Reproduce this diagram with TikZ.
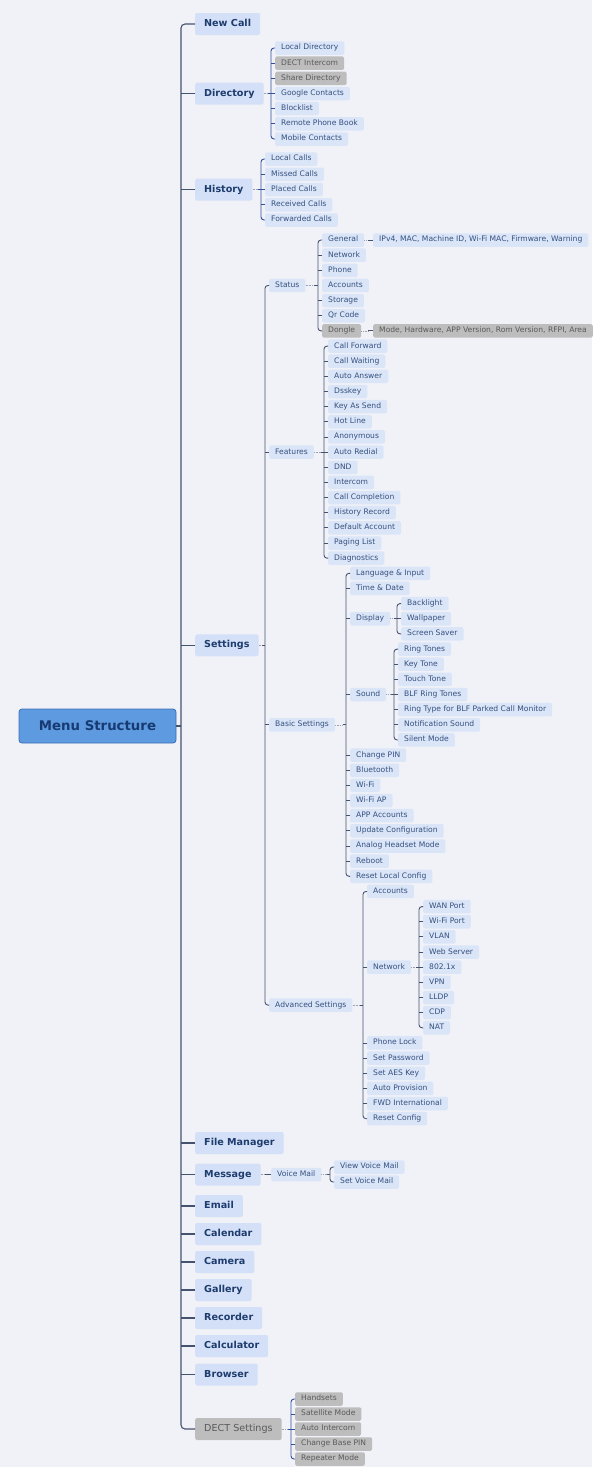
\documentclass[tikz,border=0pt]{standalone}
\usepackage{fontspec}
\setmainfont{DejaVu Sans}
\usepackage{tikz}
\usetikzlibrary{calc}
\usepackage{xcolor}
\definecolor{bgcol}{HTML}{F1F2F8}
\definecolor{rootfill}{HTML}{5E9AE0}
\definecolor{rootedge}{HTML}{3B6FB5}
\definecolor{roottext}{HTML}{173A72}
\definecolor{mainfill}{HTML}{D3E0F7}
\definecolor{maintext}{HTML}{1E3C6E}
\definecolor{subfill}{HTML}{DBE5F8}
\definecolor{subtext}{HTML}{34507E}
\definecolor{greyfill}{HTML}{BDBDBD}
\definecolor{greytext}{HTML}{5A5A5A}
\definecolor{linecol}{HTML}{45536F}
\definecolor{bracecol}{HTML}{30509A}
\definecolor{dotcol}{HTML}{9AA3B5}
\tikzset{
  rootbox/.style={draw=rootedge, fill=rootfill, rounded corners=3pt, line width=0.8pt, minimum width=157pt, minimum height=34pt, inner sep=0pt, font=\bfseries\fontsize{13.3}{15}\selectfont, text=roottext},
  mainbox/.style={fill=mainfill, rounded corners=2pt, anchor=west, minimum height=22pt, inner xsep=9pt, inner ysep=0pt, text height=7.2pt, text depth=2.2pt, font=\bfseries\fontsize{9.6}{11}\selectfont, text=maintext},
  greymain/.style={mainbox, fill=greyfill, text=greytext, font=\fontsize{9.6}{11}\selectfont},
  subbox/.style={fill=subfill, rounded corners=1.5pt, anchor=west, minimum height=13.5pt, inner xsep=6pt, inner ysep=0pt, text height=5.6pt, text depth=1.7pt, font=\fontsize{7.6}{8.5}\selectfont, text=subtext},
  greybox/.style={subbox, fill=greyfill, text=greytext},
  trunk/.style={draw=linecol, line width=1.1pt, rounded corners=4pt},
  bracket/.style={draw=linecol, line width=0.9pt, rounded corners=3pt},
  brace/.style={draw=bracecol, line width=0.9pt, rounded corners=3pt},
  dotlink/.style={draw=dotcol, line width=0.6pt, densely dotted}
}

\begin{document}
\begin{tikzpicture}[x=1pt, y=-1pt]
\fill[bgcol] (0,0) rectangle (592,1467);
\useasboundingbox (0,0) rectangle (592,1467);

\node[rootbox] (root) at (97.5,726) {Menu Structure};

% main branches
\node[mainbox] (newcall) at (195,24) {New Call};
\node[mainbox] (directory) at (195,93.5) {Directory};
\node[mainbox] (history) at (195,189.5) {History};
\node[mainbox] (settings) at (195,645.3) {Settings};
\node[mainbox] (filemgr) at (195,1143) {File Manager};
\node[mainbox] (message) at (195,1174.5) {Message};
\node[mainbox] (email) at (195,1206) {Email};
\node[mainbox] (calendar) at (195,1234) {Calendar};
\node[mainbox] (camera) at (195,1262) {Camera};
\node[mainbox] (gallery) at (195,1290) {Gallery};
\node[mainbox] (recorder) at (195,1318) {Recorder};
\node[mainbox] (calculator) at (195,1346) {Calculator};
\node[mainbox] (browser) at (195,1374.5) {Browser};
\node[greymain] (dect) at (195,1429) {DECT Settings};

\draw[trunk] (root.east) -- ++(5,0);
\draw[trunk] (newcall.west) -- ++(-14,0) |- (dect.west);
\foreach \n in {directory,history,settings,filemgr,message,email,calendar,camera,gallery,recorder,calculator,browser}
  \draw[trunk] (\n.west) -- ++(-14,0);

% directory
\node[subbox] (d1) at (275,48) {Local Directory};
\node[greybox] (d2) at (275,63.2) {DECT Intercom};
\node[greybox] (d3) at (275,78.3) {Share Directory};
\node[subbox] (d4) at (275,93.5) {Google Contacts};
\node[subbox] (d5) at (275,108.7) {Blocklist};
\node[subbox] (d6) at (275,123.8) {Remote Phone Book};
\node[subbox] (d7) at (275,139) {Mobile Contacts};
\draw[dotlink] (directory.east) -- ($(directory.east -| d1.west)+(-7,0)$);
\draw[brace] (d1.west) -- ++(-4,0) |- (d7.west);
\draw[brace] ($(directory.east -| d1.west)+(-4,0)$) -- ++(-3,0);
\foreach \n in {d2,d3,d4,d5,d6} \draw[brace] (\n.west) -- ++(-4,0);

% history
\node[subbox] (h1) at (265,159) {Local Calls};
\node[subbox] (h2) at (265,174.25) {Missed Calls};
\node[subbox] (h3) at (265,189.5) {Placed Calls};
\node[subbox] (h4) at (265,204.75) {Received Calls};
\node[subbox] (h5) at (265,220) {Forwarded Calls};
\draw[dotlink] (history.east) -- ($(history.east -| h1.west)+(-7,0)$);
\draw[brace] (h1.west) -- ++(-4,0) |- (h5.west);
\draw[brace] ($(history.east -| h1.west)+(-4,0)$) -- ++(-3,0);
\foreach \n in {h2,h3,h4} \draw[brace] (\n.west) -- ++(-4,0);

% settings
\node[subbox] (status) at (269,285.45) {Status};
\node[subbox] (features) at (269,452.1) {Features};
\node[subbox] (basic) at (269,724.8) {Basic Settings};
\node[subbox] (advanced) at (269,1005.1) {Advanced Settings};
\draw[dotlink] (settings.east) -- ($(settings.east -| status.west)+(-7,0)$);
\draw[bracket] (status.west) -- ++(-4,0) |- (advanced.west);
\draw[bracket] ($(settings.east -| status.west)+(-4,0)$) -- ++(-3,0);
\foreach \n in {features,basic} \draw[bracket] (\n.west) -- ++(-4,0);

% status
\node[subbox] (st1) at (322,240) {General};
\node[subbox] (st2) at (322,255.15) {Network};
\node[subbox] (st3) at (322,270.3) {Phone};
\node[subbox] (st4) at (322,285.45) {Accounts};
\node[subbox] (st5) at (322,300.6) {Storage};
\node[subbox] (st6) at (322,315.75) {Qr Code};
\node[greybox] (st7) at (322,330.9) {Dongle};
\node[subbox] (geninfo) at (373,240) {IPv4, MAC, Machine ID, Wi-Fi MAC, Firmware, Warning};
\node[greybox] (dongleinfo) at (373,330.9) {Mode, Hardware, APP Version, Rom Version, RFPI, Area};
\draw[dotlink] (status.east) -- ($(status.east -| st1.west)+(-8,0)$);
\draw[bracket] (st1.west) -- ++(-4,0) |- (st7.west);
\draw[bracket] ($(status.east -| st1.west)+(-4,0)$) -- ++(-4,0);
\foreach \n in {st2,st3,st5,st6} \draw[bracket] (\n.west) -- ++(-4,0);
\draw[dotlink] (st1.east) -- ($(geninfo.west)+(-5,0)$);
\draw[bracket] ($(geninfo.west)+(-5,0)$) -- (geninfo.west);
\draw[dotlink] (st7.east) -- ($(dongleinfo.west)+(-5,0)$);
\draw[bracket] ($(dongleinfo.west)+(-5,0)$) -- (dongleinfo.west);

% features
\node[subbox] (f1) at (328,346.05) {Call Forward};
\node[subbox] (f2) at (328,361.2) {Call Waiting};
\node[subbox] (f3) at (328,376.35) {Auto Answer};
\node[subbox] (f4) at (328,391.5) {Dsskey};
\node[subbox] (f5) at (328,406.65) {Key As Send};
\node[subbox] (f6) at (328,421.8) {Hot Line};
\node[subbox] (f7) at (328,436.95) {Anonymous};
\node[subbox] (f8) at (328,452.1) {Auto Redial};
\node[subbox] (f9) at (328,467.25) {DND};
\node[subbox] (f10) at (328,482.4) {Intercom};
\node[subbox] (f11) at (328,497.55) {Call Completion};
\node[subbox] (f12) at (328,512.7) {History Record};
\node[subbox] (f13) at (328,527.85) {Default Account};
\node[subbox] (f14) at (328,543) {Paging List};
\node[subbox] (f15) at (328,558.15) {Diagnostics};
\draw[dotlink] (features.east) -- ($(features.east -| f1.west)+(-7,0)$);
\draw[bracket] (f1.west) -- ++(-4,0) |- (f15.west);
\draw[bracket] ($(features.east -| f1.west)+(-4,0)$) -- ++(-3,0);
\foreach \n in {f2,f3,f4,f5,f6,f7,f8,f9,f10,f11,f12,f13,f14} \draw[bracket] (\n.west) -- ++(-4,0);

% basic settings
\node[subbox] (b1) at (350,573.3) {Language \& Input};
\node[subbox] (b2) at (350,588.45) {Time \& Date};
\node[subbox] (b3) at (350,618.75) {Display};
\node[subbox] (b4) at (350,694.5) {Sound};
\node[subbox] (b5) at (350,755.1) {Change PIN};
\node[subbox] (b6) at (350,770.25) {Bluetooth};
\node[subbox] (b7) at (350,785.4) {Wi-Fi};
\node[subbox] (b8) at (350,800.55) {Wi-Fi AP};
\node[subbox] (b9) at (350,815.7) {APP Accounts};
\node[subbox] (b10) at (350,830.85) {Update Configuration};
\node[subbox] (b11) at (350,846) {Analog Headset Mode};
\node[subbox] (b12) at (350,861.15) {Reboot};
\node[subbox] (b13) at (350,876.3) {Reset Local Config};
\draw[dotlink] (basic.east) -- ($(basic.east -| b1.west)+(-7,0)$);
\draw[bracket] (b1.west) -- ++(-4,0) |- (b13.west);
\draw[bracket] ($(basic.east -| b1.west)+(-4,0)$) -- ++(-3,0);
\foreach \n in {b2,b3,b4,b5,b6,b7,b8,b9,b10,b11,b12} \draw[bracket] (\n.west) -- ++(-4,0);

% display
\node[subbox] (dp1) at (401,603.6) {Backlight};
\node[subbox] (dp2) at (401,618.75) {Wallpaper};
\node[subbox] (dp3) at (401,633.9) {Screen Saver};
\draw[dotlink] (b3.east) -- ($(b3.east -| dp1.west)+(-7,0)$);
\draw[bracket] (dp1.west) -- ++(-4,0) |- (dp3.west);
\draw[bracket] ($(b3.east -| dp1.west)+(-4,0)$) -- ++(-3,0);
\draw[bracket] (dp2.west) -- ++(-4,0);

% sound
\node[subbox] (so1) at (398,649.05) {Ring Tones};
\node[subbox] (so2) at (398,664.2) {Key Tone};
\node[subbox] (so3) at (398,679.35) {Touch Tone};
\node[subbox] (so4) at (398,694.5) {BLF Ring Tones};
\node[subbox] (so5) at (398,709.65) {Ring Type for BLF Parked Call Monitor};
\node[subbox] (so6) at (398,724.8) {Notification Sound};
\node[subbox] (so7) at (398,739.95) {Silent Mode};
\draw[dotlink] (b4.east) -- ($(b4.east -| so1.west)+(-7,0)$);
\draw[bracket] (so1.west) -- ++(-4,0) |- (so7.west);
\draw[bracket] ($(b4.east -| so1.west)+(-4,0)$) -- ++(-3,0);
\foreach \n in {so2,so3,so4,so5,so6} \draw[bracket] (\n.west) -- ++(-4,0);

% advanced settings
\node[subbox] (a1) at (367,891.45) {Accounts};
\node[subbox] (a2) at (367,967.2) {Network};
\node[subbox] (a3) at (367,1042.95) {Phone Lock};
\node[subbox] (a4) at (367,1058.1) {Set Password};
\node[subbox] (a5) at (367,1073.25) {Set AES Key};
\node[subbox] (a6) at (367,1088.4) {Auto Provision};
\node[subbox] (a7) at (367,1103.55) {FWD International};
\node[subbox] (a8) at (367,1118.7) {Reset Config};
\draw[dotlink] (advanced.east) -- ($(advanced.east -| a1.west)+(-7,0)$);
\draw[bracket] (a1.west) -- ++(-4,0) |- (a8.west);
\draw[bracket] ($(advanced.east -| a1.west)+(-4,0)$) -- ++(-3,0);
\foreach \n in {a2,a3,a4,a5,a6,a7} \draw[bracket] (\n.west) -- ++(-4,0);

% network
\node[subbox] (n1) at (423,906.6) {WAN Port};
\node[subbox] (n2) at (423,921.75) {Wi-Fi Port};
\node[subbox] (n3) at (423,936.9) {VLAN};
\node[subbox] (n4) at (423,952.05) {Web Server};
\node[subbox] (n5) at (423,967.2) {802.1x};
\node[subbox] (n6) at (423,982.35) {VPN};
\node[subbox] (n7) at (423,997.5) {LLDP};
\node[subbox] (n8) at (423,1012.65) {CDP};
\node[subbox] (n9) at (423,1027.8) {NAT};
\draw[dotlink] (a2.east) -- ($(a2.east -| n1.west)+(-7,0)$);
\draw[bracket] (n1.west) -- ++(-4,0) |- (n9.west);
\draw[bracket] ($(a2.east -| n1.west)+(-4,0)$) -- ++(-3,0);
\foreach \n in {n2,n3,n4,n5,n6,n7,n8} \draw[bracket] (\n.west) -- ++(-4,0);

% message
\node[subbox] (voicemail) at (271,1174.5) {Voice Mail};
\node[subbox] (vm1) at (334,1167) {View Voice Mail};
\node[subbox] (vm2) at (334,1182) {Set Voice Mail};
\draw[dotlink] (message.east) -- ($(voicemail.west)+(-6,0)$);
\draw[bracket] ($(voicemail.west)+(-6,0)$) -- (voicemail.west);
\draw[dotlink] (voicemail.east) -- ($(voicemail.east -| vm1.west)+(-7,0)$);
\draw[bracket] (vm1.west) -- ++(-4,0) |- (vm2.west);
\draw[bracket] ($(voicemail.east -| vm1.west)+(-4,0)$) -- ++(-3,0);

% dect settings
\node[greybox] (dc1) at (295,1399) {Handsets};
\node[greybox] (dc2) at (295,1414) {Satellite Mode};
\node[greybox] (dc3) at (295,1429) {Auto Intercom};
\node[greybox] (dc4) at (295,1444) {Change Base PIN};
\node[greybox] (dc5) at (295,1459) {Repeater Mode};
\draw[dotlink] (dect.east) -- ($(dect.east -| dc1.west)+(-7,0)$);
\draw[brace] (dc1.west) -- ++(-4,0) |- (dc5.west);
\draw[brace] ($(dect.east -| dc1.west)+(-4,0)$) -- ++(-3,0);
\foreach \n in {dc2,dc3,dc4} \draw[brace] (\n.west) -- ++(-4,0);
\end{tikzpicture}
\end{document}
